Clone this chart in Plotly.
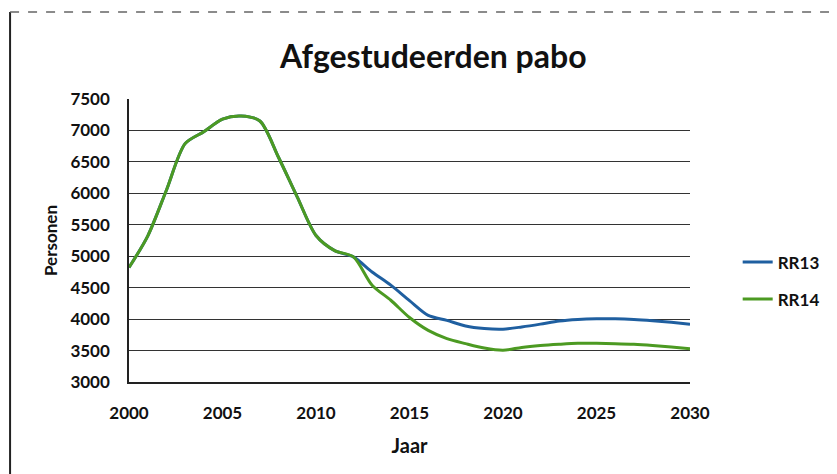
import plotly.graph_objects as go

years = list(range(2000, 2031))
rr13 = [4820, 5320, 6050, 6790, 6980, 7180, 7230, 7150, 6570, 5940, 5330, 5090, 4990,
        4750, 4540, 4295, 4060, 3980, 3890, 3850, 3840, 3875, 3920, 3970, 3995, 4005,
        4005, 3995, 3975, 3950, 3920]
rr14 = [4820, 5320, 6050, 6790, 6980, 7180, 7230, 7150, 6570, 5940, 5330, 5090, 4990,
        4540, 4300, 4025, 3820, 3690, 3610, 3540, 3505, 3550, 3580, 3600, 3615, 3615,
        3610, 3600, 3580, 3555, 3530]
series_names = ["RR13", "RR14"]
series_colors = ["#1F5FA0", "#4C9A22"]
x_ticks = [2000, 2005, 2010, 2015, 2020, 2025, 2030]

fig = go.Figure()
for name, vals, col in zip(series_names, [rr13, rr14], series_colors):
    fig.add_trace(go.Scatter(x=years, y=vals, name=name, mode="lines", legendgroup=name,
                             line=dict(color=col, width=3, shape="spline", smoothing=0.8)))

# page has an 8px body margin, so the figure is sized/offset to compensate
fig.update_layout(
    width=829, height=466,
    margin=dict(l=121, r=147, t=91, b=92),
    paper_bgcolor="white", plot_bgcolor="white",
    font=dict(family="Lato, 'Open Sans', sans-serif", color="#111"),
    title=dict(text="Afgestudeerden pabo", x=0.513, xanchor="center", y=0.895,
               yanchor="middle", font=dict(size=32, color="#111", weight="bold")),
    showlegend=True,
    legend=dict(x=1.085, y=0.357, xanchor="left", yanchor="middle", bgcolor="rgba(0,0,0,0)",
                font=dict(size=17, color="#111", weight="bold"), tracegroupgap=12, itemwidth=30),
    xaxis=dict(range=[2000, 2030], tickvals=x_ticks,
               showgrid=False, showline=True, linecolor="#222", linewidth=1.5,
               ticks="", tickfont=dict(size=17, color="#111", weight="bold"), ticklabelstandoff=15,
               title=dict(text="Jaar", font=dict(size=20, color="#111", weight="bold"), standoff=17),
               zeroline=False),
    yaxis=dict(range=[3000, 7500], dtick=500, showgrid=True, gridcolor="#333", gridwidth=1.3,
               showline=True, linecolor="#222", linewidth=1.5, ticks="",
               tickfont=dict(size=17, color="#111", weight="bold"), ticklabelstandoff=14,
               title=dict(text="Personen", font=dict(size=17, color="#111", weight="bold"), standoff=8),
               zeroline=False),
)

# outer scanned frame
fig.add_shape(type="line", xref="paper", yref="paper", x0=-0.212, x1=-0.212, y0=-0.4, y1=1.307,
              line=dict(color="#222", width=2))
fig.add_shape(type="line", xref="paper", yref="paper", x0=-0.212, x1=1.3, y0=1.307, y1=1.307,
              line=dict(color="#666", width=1.5, dash="dash"))

fig.write_html("out.html")
